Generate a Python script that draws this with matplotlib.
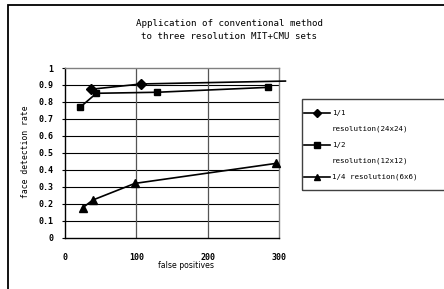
import matplotlib
matplotlib.use("Agg")
import matplotlib.pyplot as plt
from matplotlib.lines import Line2D
from matplotlib.patches import Rectangle

# ---- data ----
title = "Application of conventional method\nto three resolution MIT+CMU sets"
x_label = "false positives"
y_label = "face detection rate"

s1_label = "1/1\nresolution(24x24)"
s1_x = [37, 107, 309]
s1_y = [0.875, 0.906, 0.923]
s1_marked = [True, True, False]

s2_label = "1/2\nresolution(12x12)"
s2_x = [21, 44, 129, 285]
s2_y = [0.768, 0.851, 0.857, 0.886]

s3_label = "1/4 resolution(6x6)"
s3_x = [25, 39, 98, 296]
s3_y = [0.177, 0.222, 0.320, 0.438]

x_ticks = [0, 100, 200, 300]
y_ticks = [0, 0.1, 0.2, 0.3, 0.4, 0.5, 0.6, 0.7, 0.8, 0.9, 1]
y_tick_labels = ["0", "0.1", "0.2", "0.3", "0.4", "0.5", "0.6", "0.7", "0.8", "0.9", "1"]

MONO = "DejaVu Sans Mono"
SANS = "DejaVu Sans"
W, H = 444, 289

fig = plt.figure(figsize=(W / 100, H / 100), dpi=100)
fig.patch.set_facecolor("white")

def fx(px):
    return px / W

def fy(py):
    return 1 - py / H

ax = fig.add_axes([fx(65), fy(237.7), fx(279) - fx(65), fy(68) - fy(237.7)])
ax.set_xlim(0, 300)
ax.set_ylim(0, 1)

# grid
for yv in y_ticks[1:-1]:
    ax.axhline(yv, color="black", lw=0.8, zorder=1)
for xv in x_ticks[1:-1]:
    ax.axvline(xv, color="#555555", lw=0.9, zorder=1)

for side in ["left", "bottom"]:
    ax.spines[side].set_color("black")
    ax.spines[side].set_linewidth(1.0)
for side in ["top", "right"]:
    ax.spines[side].set_color("#808080")
    ax.spines[side].set_linewidth(1.0)

tick_fs = 6.0
ax.set_xticks(x_ticks)
ax.set_xticklabels([str(v) for v in x_ticks], fontfamily=MONO, fontsize=tick_fs,
                   fontweight="bold")
ax.set_yticks(y_ticks)
ax.set_yticklabels(y_tick_labels, fontfamily=MONO, fontsize=tick_fs, fontweight="bold")
ax.tick_params(axis="y", length=2.5, width=0.8, pad=6)
ax.tick_params(axis="x", length=0, pad=11)

lw = 1.2
ax.plot(s1_x, s1_y, color="black", lw=lw, clip_on=False, zorder=3)
mx = [x for x, m in zip(s1_x, s1_marked) if m]
my = [y for y, m in zip(s1_y, s1_marked) if m]
ax.plot(mx, my, ls="none", marker="D", ms=5.2, color="black", clip_on=False, zorder=4)
ax.plot(s2_x, s2_y, color="black", lw=lw, marker="s", ms=5.0, clip_on=False, zorder=3)
ax.plot(s3_x, s3_y, color="black", lw=lw, marker="^", ms=6.0, clip_on=False, zorder=3)

fig.text(fx(186), fy(266), x_label, ha="center", va="center",
         fontfamily=SANS, fontsize=5.6)
fig.text(fx(26), fy(152), y_label, ha="center", va="center", rotation=90,
         fontfamily=MONO, fontsize=5.8)

fig.text(fx(229), fy(30), title, ha="center", va="center",
         fontfamily=MONO, fontsize=6.6, linespacing=1.5)

# outer chart border (extends past right/bottom edges)
fig.add_artist(Rectangle((fx(7.5), fy(300)), fx(460) - fx(7.5), fy(5) - fy(300),
                         transform=fig.transFigure, fill=False,
                         edgecolor="black", lw=1.3))

# legend
fig.add_artist(Rectangle((fx(302), fy(190)), fx(460) - fx(302), fy(99) - fy(190),
                         transform=fig.transFigure, fill=False,
                         edgecolor="#404040", lw=1.0))
entries = [(s1_label, "D", 4.3, 113), (s2_label, "s", 4.3, 145), (s3_label, "^", 5.0, 177)]
for lab, mk, ms, ypos in entries:
    fig.add_artist(Line2D([fx(304), fx(330)], [fy(ypos), fy(ypos)],
                          transform=fig.transFigure, color="black", lw=lw))
    fig.add_artist(Line2D([fx(317)], [fy(ypos)], transform=fig.transFigure,
                          color="black", marker=mk, ms=ms, ls="none"))
    for i, ln in enumerate(lab.split("\n")):
        fig.text(fx(332), fy(ypos + i * 16), ln, ha="left", va="center",
                 fontfamily=MONO, fontsize=5.4)

fig.savefig("out.png", dpi=100, facecolor="white")
